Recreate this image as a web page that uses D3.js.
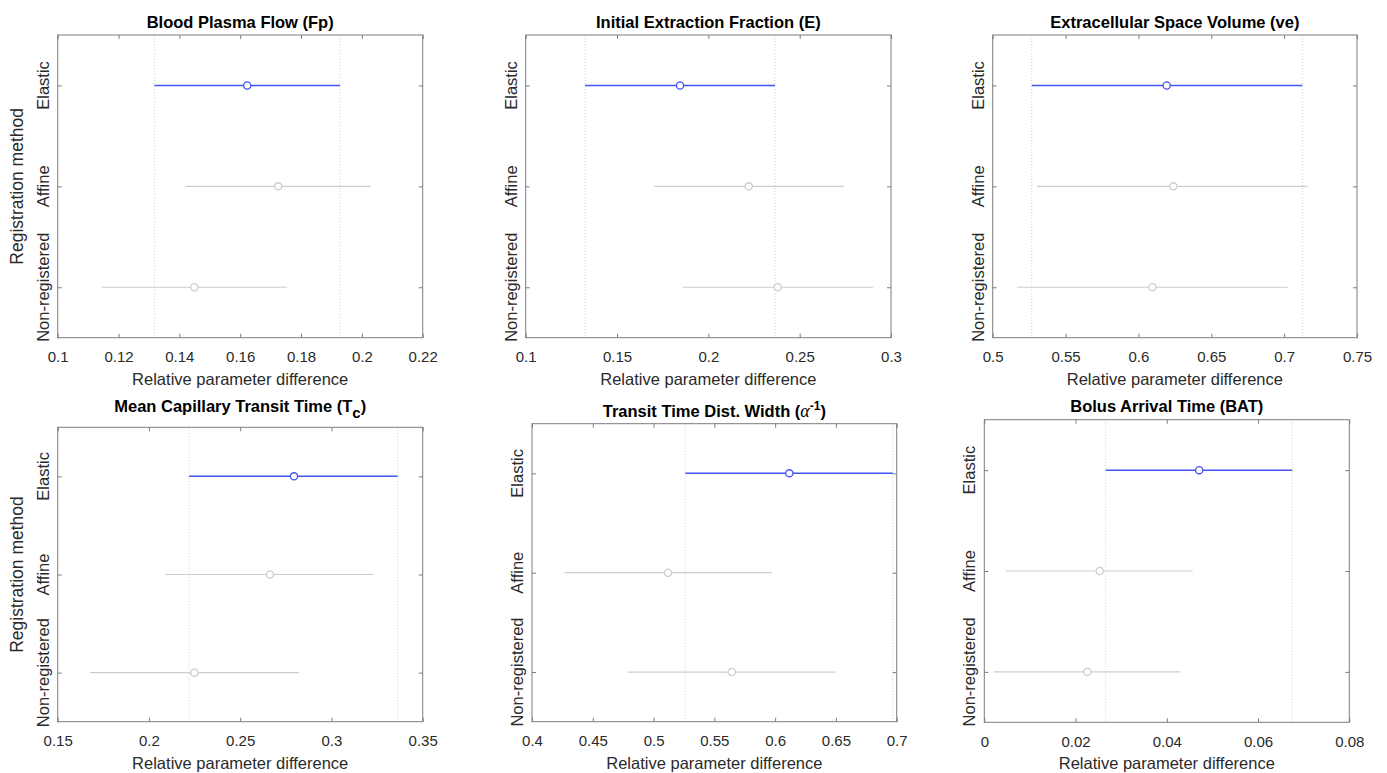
<!DOCTYPE html>
<html>
<head>
<meta charset="utf-8">
<script src="https://cdn.jsdelivr.net/npm/d3@7"></script>
<style>
body { margin: 0; background: #fff; }
svg { display: block; font-family: "Liberation Sans", Arial, sans-serif; }
</style>
</head>
<body>
<svg id="vis" width="1387" height="773"></svg>
<script>
// data
var methods = ["Elastic", "Affine", "Non-registered"];

var titles = [
    "Blood Plasma Flow (Fp)",
    "Initial Extraction Fraction (E)",
    "Extracellular Space Volume (ve)",
    "Mean Capillary Transit Time (T_c)",
    "Transit Time Dist. Width (\\alpha^{-1})",
    "Bolus Arrival Time (BAT)"
];

// one row per panel, columns follow methods
var estimates = [
    [0.1623, 0.1725, 0.1449],
    [0.1845, 0.2221, 0.2380],
    [0.6194, 0.6240, 0.6096],
    [0.2795, 0.2663, 0.2249],
    [0.6117, 0.5119, 0.5643],
    [0.0471, 0.0253, 0.0226]
];
var lowerBounds = [
    [0.1318, 0.1420, 0.1145],
    [0.1325, 0.1703, 0.1860],
    [0.5268, 0.5304, 0.5167],
    [0.2220, 0.2090, 0.1677],
    [0.5261, 0.4269, 0.4787],
    [0.0266, 0.0047, 0.0021]
];
var upperBounds = [
    [0.1928, 0.2029, 0.1753],
    [0.2365, 0.2743, 0.2903],
    [0.7125, 0.7161, 0.7024],
    [0.3363, 0.3232, 0.2822],
    [0.6967, 0.5974, 0.6495],
    [0.0675, 0.0457, 0.0430]
];

var xDomains = [[0.1, 0.22], [0.1, 0.3], [0.5, 0.75], [0.15, 0.35], [0.4, 0.7], [0, 0.08]];
var tickCounts = [6, 4, 5, 4, 6, 4];

var xLabel = "Relative parameter difference";
var yLabel = "Registration method";

// plot boxes (pixels)
var layout = [
    {x0: 57.7,  x1: 422.7,  y0: 35,    y1: 337.7, ylab: true,  titleGap: 7},
    {x0: 525.7, x1: 891,    y0: 35,    y1: 337.7, ylab: false, titleGap: 7},
    {x0: 992.7, x1: 1357,   y0: 35,    y1: 337.7, ylab: false, titleGap: 7},
    {x0: 57.7,  x1: 422.7,  y0: 427.3, y1: 721.7, ylab: true,  titleGap: 15},
    {x0: 532,   x1: 896.7,  y0: 423.7, y1: 721.7, ylab: false, titleGap: 7},
    {x0: 984.3, x1: 1349.3, y0: 419.7, y1: 722.3, ylab: false, titleGap: 8}
];

var axisColor = "#7c7c7c";
var textColor = "#2a2a2a";
var hiColor = "#4254f2";
var loColor = "#cdcdcd";

var svg = d3.select("#vis");
var fmt = d3.format("~g");

// tiny tex-ish title writer: _x subscript, ^{..} superscript, \alpha
function writeTitle(sel, str) {
    var parts = str.split(/(_\{[^}]*\}|_.|\^\{[^}]*\}|\^.|\\alpha)/).filter(function(s) { return s.length; });
    var shift = 0;
    parts.forEach(function(p) {
        var t = sel.append("tspan");
        if (p[0] == "_" || p[0] == "^") {
            var body = p.slice(1).replace(/[{}]/g, "");
            var d = p[0] == "_" ? 6 : -7;
            t.attr("dy", d - shift).attr("font-size", p[0] == "_" ? "15px" : "12px").text(body);
            shift = d;
        } else if (p == "\\alpha") {
            t.attr("dy", -shift).attr("font-style", "italic").attr("font-weight", "normal")
                .attr("font-family", "'Liberation Serif', serif").attr("font-size", "18px").text("\u03b1");
            shift = 0;
        } else {
            t.attr("dy", -shift).text(p);
            shift = 0;
        }
    });
}

layout.forEach(function(L, i) {
    var x = d3.scaleLinear().domain(xDomains[i]).range([L.x0, L.x1]);
    var y = d3.scalePoint().domain(methods).range([L.y0, L.y1]).padding(0.5);
    var ticks = d3.ticks(xDomains[i][0], xDomains[i][1], tickCounts[i]);

    var g = svg.append("g");

    // dotted lines at the bounds of the selected group
    g.selectAll(".ref")
        .data([lowerBounds[i][0], upperBounds[i][0]])
        .enter().append("line")
        .attr("x1", function(d) { return x(d); })
        .attr("x2", function(d) { return x(d); })
        .attr("y1", L.y0)
        .attr("y2", L.y1)
        .attr("stroke", "#cfcfcf")
        .attr("stroke-dasharray", "1,2");

    g.append("rect")
        .attr("x", L.x0).attr("y", L.y0)
        .attr("width", L.x1 - L.x0).attr("height", L.y1 - L.y0)
        .attr("fill", "none").attr("stroke", axisColor);

    var bottom = g.append("g").attr("transform", "translate(0," + L.y1 + ")")
        .call(d3.axisBottom(x).tickValues(ticks).tickFormat(fmt).tickSizeInner(-4).tickSizeOuter(0).tickPadding(14));
    var top = g.append("g").attr("transform", "translate(0," + L.y0 + ")")
        .call(d3.axisTop(x).tickValues(ticks).tickFormat("").tickSizeInner(-4).tickSizeOuter(0));
    var left = g.append("g").attr("transform", "translate(" + L.x0 + ",0)")
        .call(d3.axisLeft(y).tickFormat("").tickSizeInner(-4).tickSizeOuter(0));
    var right = g.append("g").attr("transform", "translate(" + L.x1 + ",0)")
        .call(d3.axisRight(y).tickFormat("").tickSizeInner(-4).tickSizeOuter(0));

    [bottom, top, left, right].forEach(function(a) {
        a.select(".domain").remove();
        a.selectAll("line").attr("stroke", axisColor);
    });
    bottom.selectAll("text")
        .attr("fill", textColor)
        .style("font-size", "15px")
        .style("font-family", "'Liberation Sans', Arial, sans-serif");

    // category labels, rotated
    g.selectAll(".cat")
        .data(methods)
        .enter().append("text")
        .attr("transform", function(d) { return "translate(" + (L.x0 - 9) + "," + y(d) + ") rotate(-90)"; })
        .attr("text-anchor", "middle")
        .attr("fill", textColor)
        .style("font-size", "16.5px")
        .text(function(d) { return d; });

    // intervals
    methods.forEach(function(m, j) {
        var col = j == 0 ? hiColor : loColor;
        g.append("line")
            .attr("x1", x(lowerBounds[i][j]))
            .attr("x2", x(upperBounds[i][j]))
            .attr("y1", y(m)).attr("y2", y(m))
            .attr("stroke", col)
            .attr("stroke-width", j == 0 ? 1.5 : 1.2);
        g.append("circle")
            .attr("cx", x(estimates[i][j]))
            .attr("cy", y(m))
            .attr("r", 3.6)
            .attr("fill", "#fff")
            .attr("stroke", col)
            .attr("stroke-width", 1.3);
    });

    g.append("text")
        .attr("x", (L.x0 + L.x1) / 2)
        .attr("y", L.y1 + 47)
        .attr("text-anchor", "middle")
        .attr("fill", textColor)
        .style("font-size", "16.5px")
        .text(xLabel);

    if (L.ylab) {
        g.append("text")
            .attr("transform", "translate(23," + (L.y0 + L.y1) / 2 + ") rotate(-90)")
            .attr("text-anchor", "middle")
            .attr("fill", textColor)
            .style("font-size", "17.5px")
            .text(yLabel);
    }

    var title = g.append("text")
        .attr("x", (L.x0 + L.x1) / 2)
        .attr("y", L.y0 - L.titleGap)
        .attr("text-anchor", "middle")
        .attr("fill", "#000")
        .attr("font-weight", "bold")
        .style("font-size", "16.5px");
    writeTitle(title, titles[i]);
});
</script>
</body>
</html>
